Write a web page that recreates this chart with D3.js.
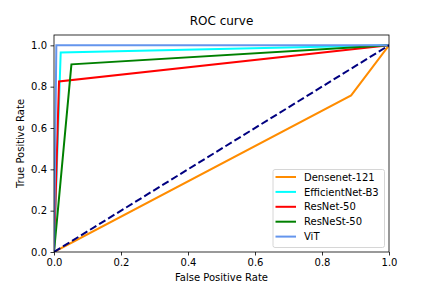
<!DOCTYPE html>
<html>
<head>
<meta charset="utf-8">
<script src="https://cdn.jsdelivr.net/npm/d3@7"></script>
<style>
  body { margin: 0; background: #fff; }
  svg text { font-family: "DejaVu Sans", sans-serif; fill: #000; }
</style>
</head>
<body>
<div id="chart"></div>
<script>
var fullwidth = 432;
var fullheight = 288;
var margin = { top: 35, right: 43, bottom: 36, left: 54 };
var width = fullwidth - margin.left - margin.right;
var height = fullheight - margin.top - margin.bottom;

// ROC points
var models = ["Densenet-121", "EfficientNet-B3", "ResNet-50", "ResNeSt-50", "ViT"];
var colors = ["darkorange", "cyan", "red", "green", "cornflowerblue"];
var fprs = [
  [0, 0.887, 1],
  [0, 0.02, 1],
  [0, 0.015, 1],
  [0, 0.052, 1],
  [0, 0.007, 1]
];
var tprs = [
  [0, 0.758, 1],
  [0, 0.965, 1],
  [0, 0.825, 1],
  [0, 0.908, 1],
  [0, 1.0, 1]
];
var chance = [[0, 0], [1, 1]];
var ticks = [0, 0.2, 0.4, 0.6, 0.8, 1.0];

var svg = d3.select("#chart").append("svg")
  .attr("width", fullwidth)
  .attr("height", fullheight);

var g = svg.append("g")
  .attr("transform", "translate(" + margin.left + "," + margin.top + ")");

var xScale = d3.scaleLinear().domain([0, 1]).range([0, width]);
var yScale = d3.scaleLinear().domain([0, 1.05]).range([height, 0]);

var line = d3.line()
  .x(function(d) { return xScale(d[0]); })
  .y(function(d) { return yScale(d[1]); });

g.append("clipPath").attr("id", "clip")
  .append("rect").attr("width", width).attr("height", height);

var plot = g.append("g").attr("clip-path", "url(#clip)");

models.forEach(function(m, i) {
  var pts = fprs[i].map(function(x, j) { return [x, tprs[i][j]]; });
  plot.append("path")
    .datum(pts)
    .attr("d", line)
    .attr("fill", "none")
    .attr("stroke", colors[i])
    .attr("stroke-width", 2);
});

plot.append("path")
  .datum(chance)
  .attr("d", line)
  .attr("fill", "none")
  .attr("stroke", "navy")
  .attr("stroke-width", 2)
  .attr("stroke-dasharray", "7.4,3.2");

var xAxis = d3.axisBottom(xScale).tickValues(ticks).tickFormat(d3.format(".1f")).tickSize(3.5).tickPadding(3.5);
var yAxis = d3.axisLeft(yScale).tickValues(ticks).tickFormat(d3.format(".1f")).tickSize(3.5).tickPadding(3.5);

g.append("g")
  .attr("transform", "translate(0," + height + ")")
  .call(xAxis)
  .call(function(s) { s.select(".domain").remove(); });

g.append("g")
  .call(yAxis)
  .call(function(s) { s.select(".domain").remove(); });

g.selectAll(".tick text").style("font-size", "10px").style("font-family", "DejaVu Sans");
g.selectAll(".tick line").attr("stroke", "#000").attr("stroke-width", 0.8);

g.append("rect")
  .attr("width", width)
  .attr("height", height)
  .attr("fill", "none")
  .attr("stroke", "#000")
  .attr("stroke-width", 0.8);

svg.append("text")
  .attr("x", margin.left + width / 2)
  .attr("y", margin.top - 10)
  .attr("text-anchor", "middle")
  .style("font-size", "12px")
  .text("ROC curve");

svg.append("text")
  .attr("x", margin.left + width / 2)
  .attr("y", margin.top + height + 29)
  .attr("text-anchor", "middle")
  .style("font-size", "10px")
  .text("False Positive Rate");

svg.append("text")
  .attr("transform", "translate(24," + (margin.top + height / 2) + ") rotate(-90)")
  .attr("text-anchor", "middle")
  .style("font-size", "10px")
  .text("True Positive Rate");

// legend
var legend = svg.append("g").attr("transform", "translate(273,169.5)");
legend.append("rect")
  .attr("width", 111.5)
  .attr("height", 78)
  .attr("rx", 2)
  .attr("fill", "#fff")
  .attr("fill-opacity", 0.8)
  .attr("stroke", "#ccc")
  .attr("stroke-width", 0.8);

models.forEach(function(m, i) {
  var y = 7.5 + i * 14.9;
  legend.append("line")
    .attr("x1", 2.5).attr("x2", 23)
    .attr("y1", y).attr("y2", y)
    .attr("stroke", colors[i])
    .attr("stroke-width", 2);
  legend.append("text")
    .attr("x", 31)
    .attr("y", y + 3.6)
    .style("font-size", "10px")
    .text(m);
});
</script>
</body>
</html>
